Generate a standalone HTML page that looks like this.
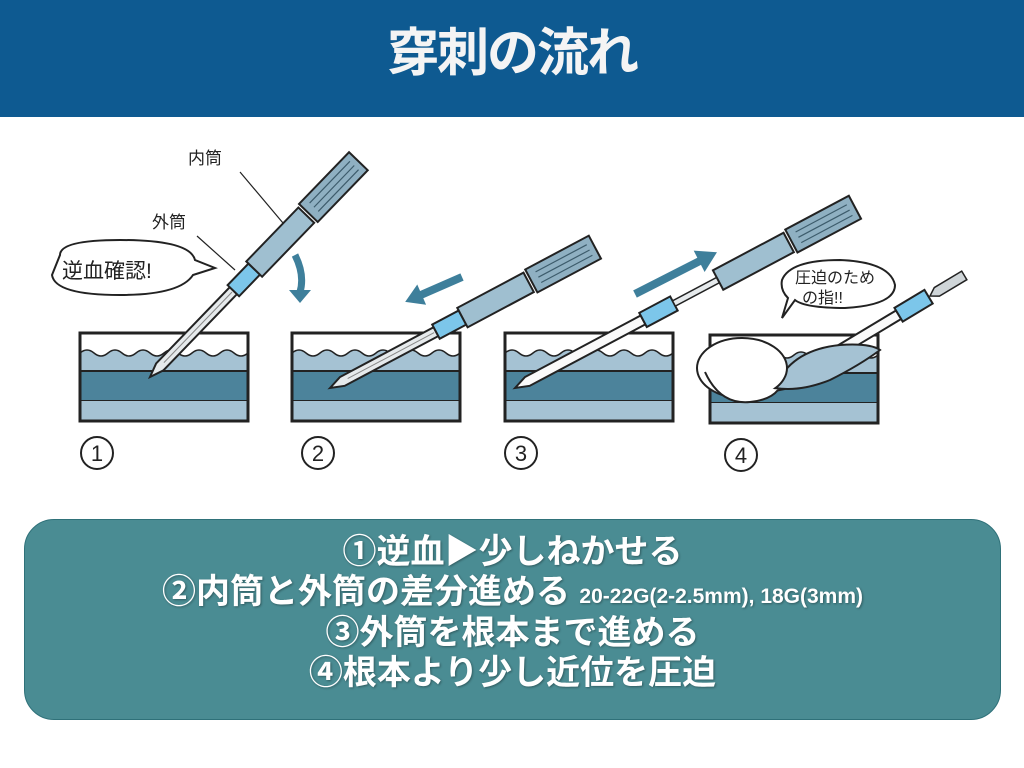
<!DOCTYPE html>
<html><head><meta charset="utf-8"><style>
body{margin:0;width:1024px;height:768px;background:#fff;position:relative;overflow:hidden;font-family:"Liberation Sans","Noto Sans CJK JP",sans-serif}
.hd{position:absolute;left:0;top:0;width:1024px;height:117px;background:#0e5a91}
.hd div{position:absolute;left:0;right:0;top:22px;text-align:center;color:#f4f4f4;font-weight:bold;font-size:52px;letter-spacing:-2px;line-height:64px}
.box{position:absolute;left:24px;top:519px;width:975px;height:199px;border-radius:30px;background:#4a8c93;border:1px solid #2f7179}
.ln{position:absolute;left:0;right:0;text-align:center;color:#fff;font-weight:bold;font-size:34px;line-height:40px;text-shadow:1px 1px 2px rgba(0,0,0,.35)}
.sm{font-size:21px}
svg{position:absolute;left:0;top:0}
</style></head><body>
<div class="hd"><div>穿刺の流れ</div></div>
<svg width="1024" height="500" viewBox="0 0 1024 500">
<defs>
<g id="tissue">
<rect x="0" y="0" width="168" height="88" fill="#fff"/>
<path d="M0 20 q7 -6 14 0 t14 0 t14 0 t14 0 t14 0 t14 0 t14 0 t14 0 t14 0 t14 0 t14 0 t14 0 V38 H0Z" fill="#a5c2d3" stroke="#222" stroke-width="1.5"/>
<rect x="0" y="38" width="168" height="30" fill="#4c839b" stroke="#222" stroke-width="2"/>
<rect x="0" y="68" width="168" height="20" fill="#a5c2d3"/>
<rect x="0" y="0" width="168" height="88" fill="none" stroke="#222" stroke-width="3"/>
</g>
<g id="cap"><rect x="0" y="-13" width="72" height="26" fill="#8fb0c2" stroke="#222" stroke-width="2"/>
<path d="M8 -6H66M8 0H66M8 6H66" stroke="#3d5c6c" stroke-width="1.2"/></g>
<g id="needle1">
<polygon points="0,0 14,-5 120,-5 120,5 14,5" fill="#e6eaec" stroke="#222" stroke-width="2"/>
<line x1="20" y1="0" x2="118" y2="0" stroke="#888"/>
<rect x="120" y="-8" width="30" height="16" fill="#7cc6ea" stroke="#222" stroke-width="2"/>
<rect x="150" y="-11" width="75" height="22" fill="#9fbfd0" stroke="#222" stroke-width="2"/>
<use href="#cap" x="228"/>
</g>
</defs>
<use href="#tissue" x="80" y="333"/>
<use href="#tissue" x="292" y="333"/>
<use href="#tissue" x="505" y="333"/>
<use href="#tissue" x="710" y="335"/>
<!-- panel 1 -->
<g transform="translate(150,377) rotate(-46)"><use href="#needle1"/></g>
<line x1="240" y1="172" x2="283" y2="223" stroke="#222" stroke-width="1.2"/>
<line x1="197" y1="236" x2="235" y2="270" stroke="#222" stroke-width="1.2"/>
<text x="188" y="164" font-size="17" fill="#222">内筒</text>
<text x="152" y="228" font-size="17" fill="#222">外筒</text>
<path d="M60 255 Q60 240 120 240 Q190 240 195 260 L215 268 L193 275 Q180 295 120 295 Q55 295 52 275 Z" fill="#fff" stroke="#222" stroke-width="2"/>
<text x="62" y="278" font-size="21" fill="#222">逆血確認!</text>
<path d="M295 255 Q305 275 300 292" stroke="#3e7f9b" stroke-width="7" fill="none"/>
<polygon points="289,290 311,290 300,303" fill="#3e7f9b"/>
<!-- panel 2 -->
<g transform="translate(330,388) rotate(-28)"><use href="#needle1"/></g>
<g transform="translate(462,277) rotate(156.4)"><polygon points="0,-4 44,-4 44,-11 62,0 44,11 44,4 0,4" fill="#3e7f9b"/></g>
<!-- panel 3 -->
<g transform="translate(515,388) rotate(-28)">
<polygon points="0,0 14,-5 145,-5 145,5 14,5" fill="#fafafa" stroke="#222" stroke-width="2"/>
<rect x="145" y="-8" width="35" height="16" fill="#7cc6ea" stroke="#222" stroke-width="2"/>
<rect x="180" y="-3" width="50" height="6" fill="#e6eaec" stroke="#222" stroke-width="1.5"/>
<rect x="230" y="-11" width="80" height="22" fill="#9fbfd0" stroke="#222" stroke-width="2"/>
<use href="#cap" x="313"/>
</g>
<g transform="translate(635,294) rotate(-27)"><polygon points="0,-4 72,-4 72,-12 92,0 72,12 72,4 0,4" fill="#3e7f9b"/></g>
<!-- panel 4 -->
<g transform="translate(770,392) rotate(-31)">
<polygon points="0,0 14,-5 150,-5 150,5 14,5" fill="#fafafa" stroke="#222" stroke-width="2"/>
<rect x="150" y="-8" width="35" height="16" fill="#7cc6ea" stroke="#222" stroke-width="2"/>
</g>
<g transform="translate(930,296) rotate(-31)"><polygon points="0,0 8,-5 40,-5 40,5 8,5" fill="#cfd5d8" stroke="#222" stroke-width="1.5"/></g>
<path d="M775 388 Q790 350 840 345 Q870 343 880 350 Q860 365 830 380 Q800 392 775 388Z" fill="#a5c2d3" stroke="#222" stroke-width="2"/>
<ellipse cx="742" cy="368" rx="45" ry="30" fill="#fff" stroke="#222" stroke-width="2"/>
<path d="M705 372 Q720 405 750 402 Q770 400 778 390" fill="#fff" stroke="#222" stroke-width="2"/>
<path d="M782 280 Q790 260 840 260 Q890 262 895 285 Q895 305 845 308 Q805 308 795 300 L782 318 L788 298 Q780 290 782 280Z" fill="#fff" stroke="#222" stroke-width="2"/>
<text x="795" y="283" font-size="16" fill="#222">圧迫のため</text>
<text x="802" y="303" font-size="16" fill="#222">の指!!</text>
<!-- numbers -->
<g fill="none" stroke="#222" stroke-width="2">
<circle cx="97" cy="453" r="16"/><circle cx="318" cy="453" r="16"/><circle cx="521" cy="453" r="16"/><circle cx="741" cy="455" r="16"/></g>
<g font-size="22" fill="#222" text-anchor="middle">
<text x="97" y="461">1</text><text x="318" y="461">2</text><text x="521" y="461">3</text><text x="741" y="463">4</text></g>
</svg>
<div class="box">
<div class="ln" style="top:12px">①逆血▶少しねかせる</div>
<div class="ln" style="top:52px">②内筒と外筒の差分進める <span class="sm">20-22G(2-2.5mm), 18G(3mm)</span></div>
<div class="ln" style="top:93px">③外筒を根本まで進める</div>
<div class="ln" style="top:133px">④根本より少し近位を圧迫</div>
</div>
</body></html>
